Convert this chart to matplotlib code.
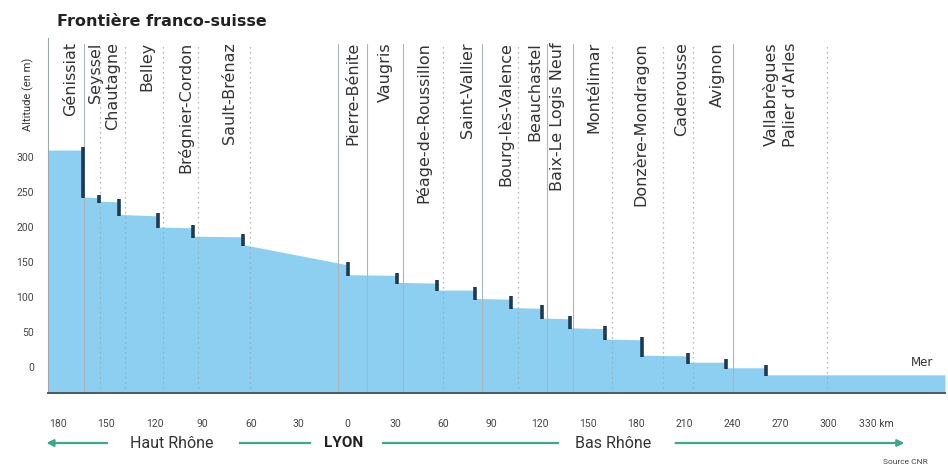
import numpy as np
import matplotlib
matplotlib.use("Agg")
import matplotlib.pyplot as plt
from matplotlib.transforms import blended_transform_factory

plt.rcParams['font.family'] = ['Roboto', 'DejaVu Sans']

# barrages, d'amont en aval (km depuis Lyon, negatif = en amont)
stations = ["Génissiat", "Seyssel", "Chautagne", "Belley", "Brégnier-Cordon",
            "Sault-Brénaz", "Pierre-Bénite", "Vaugris", "Péage-de-Roussillon",
            "Saint-Vallier", "Bourg-lès-Valence", "Beauchastel",
            "Baix-Le Logis Neuf", "Montélimar", "Donzère-Mondragon",
            "Caderousse", "Avignon", "Vallabrègues\nPalier d'Arles"]
dam_km = [-164.5, -154.5, -142, -118, -96, -65, 0.6, 31, 56, 80, 102,
          121.5, 139, 161, 184, 212.5, 236, 261]
level_up = [310, 242, 236, 216, 199, 186, 146, 131, 120, 110, 97, 84,
            69, 55, 39, 16, 7, -1]
level_down = [243, 237, 218, 200, 187, 175, 132, 121, 110, 98, 85, 70,
              56, 40, 17, 7, -1, -11]
label_km = [-172, -157, -145.8, -124.6, -101, -72.9, 3.7, 23.7, 47.4,
            74.8, 98.4, 117, 131, 154, 182.6, 208.7, 230.5, 270]
line_km = [-163.9, -153.9, -138.3, -114.6, -92.8, -60.4, 12.5, 34.9,
           59.8, 84.1, 106.5, 124.6, 140.8, 165.1, 196.9, 215.6, 240.5, 299]
line_dotted = [False, True, True, True, True, True, False, False, True,
               False, True, False, False, True, True, True, False, True]
lyon_line_km = -5.6
source_level = 310
sea_level = -11

x_ticks = [-180, -150, -120, -90, -60, -30, 0, 30, 60, 90, 120, 150, 180,
           210, 240, 270, 300, 330]
x_labels = ["180", "150", "120", "90", "60", "30", "0", "30", "60", "90",
            "120", "150", "180", "210", "240", "270", "300", "330 km"]
y_ticks = [0, 50, 100, 150, 200, 250, 300]

xmin, xmax = -186.3, 372.6
ymin, ymax = -37, 470

# profil en escalier
px = [xmin]
py = [source_level]
for k, up, down in zip(dam_km, level_up, level_down):
    px += [k, k]
    py += [up, down]
px.append(xmax)
py.append(sea_level)

fig = plt.figure(figsize=(9.48, 4.71), dpi=100)
ax = fig.add_axes([48 / 948, 1 - 393 / 471, 897 / 948, 355 / 471])
ax.set_xlim(xmin, xmax)
ax.set_ylim(ymin, ymax)

ax.fill_between(px, ymin, py, color='#8dcff1', lw=0, zorder=1)

# lignes verticales des barrages
for k, dotted in zip(line_km, line_dotted):
    if dotted:
        ax.plot([k, k], [ymin, 462], color='#9aa6aa', lw=0.9,
                ls=(0, (1, 3)), zorder=2)
    else:
        ax.plot([k, k], [ymin, 462], color='#a9b5b9', lw=0.8, zorder=2)
ax.plot([lyon_line_km, lyon_line_km], [ymin, 462], color='#a9b5b9',
        lw=0.8, zorder=2)

# chutes
ax.vlines(dam_km, np.array(level_down) - 2, np.array(level_up) + 4,
          color='#1e3a52', lw=2.6, zorder=4)

for name, k in zip(stations, label_km):
    ax.text(k, 464, name, rotation=90, ha='center', va='top',
            fontsize=11.5, family='DejaVu Sans', color='#333333',
            linespacing=1.3, zorder=5)

ax.text(358, 6, "Mer", ha='center', va='center', fontsize=8.5,
        family='DejaVu Sans', color='#333333')

ax.set_xticks(x_ticks)
ax.set_xticklabels(x_labels, fontsize=7.5, color='#444444')
ax.set_yticks(y_ticks)
ax.set_yticklabels([str(v) for v in y_ticks], fontsize=7.5, color='#444444')
ax.tick_params(axis='x', length=0, pad=19)
ax.tick_params(axis='y', length=0, pad=10)

for s in ['top', 'right']:
    ax.spines[s].set_visible(False)
ax.spines['left'].set_color('#9aa6aa')
ax.spines['left'].set_linewidth(0.8)
ax.spines['bottom'].set_color('#4a5a60')
ax.spines['bottom'].set_linewidth(1.4)

fig.text(28 / 948, 1 - 94 / 471, "Altitude (en m)", rotation=90,
         ha='center', va='center', fontsize=8, color='#333333')
fig.text(57 / 948, 1 - 22 / 471, "Frontière franco-suisse", ha='left',
         va='center', fontsize=11.5, fontweight='bold', family='DejaVu Sans',
         color='#222222')

# fleches Haut Rhone / Lyon / Bas Rhone
tr = blended_transform_factory(ax.transData, fig.transFigure)
yarr = 1 - 443 / 471
green = '#3aa88a'
ax.annotate("", xy=(-189, yarr), xytext=(-147.7, yarr), xycoords=tr,
            textcoords=tr, arrowprops=dict(arrowstyle='-|>', color=green,
            lw=1.6, mutation_scale=10), annotation_clip=False)
ax.plot([-66.7, -23], [yarr, yarr], color=green, lw=1.6, transform=tr,
        clip_on=False)
ax.plot([22.4, 131.5], [yarr, yarr], color=green, lw=1.6, transform=tr,
        clip_on=False)
ax.annotate("", xy=(349, yarr), xytext=(203, yarr), xycoords=tr,
            textcoords=tr, arrowprops=dict(arrowstyle='-|>', color=green,
            lw=1.6, mutation_scale=10), annotation_clip=False)
ax.text(-109, yarr, "Haut Rhône", transform=tr, ha='center', va='center',
        fontsize=11.5, color='#333333')
ax.text(-2, yarr, "LYON", transform=tr, ha='center', va='center',
        fontsize=11, fontweight='bold', color='#222222')
ax.text(166, yarr, "Bas Rhône", transform=tr, ha='center', va='center',
        fontsize=11.5, color='#333333')

fig.text(883 / 948, 1 - 462 / 471, "Source CNR", ha='left', va='center',
         fontsize=6, color='#444444')

fig.savefig("out.png", dpi=100, facecolor='white')
